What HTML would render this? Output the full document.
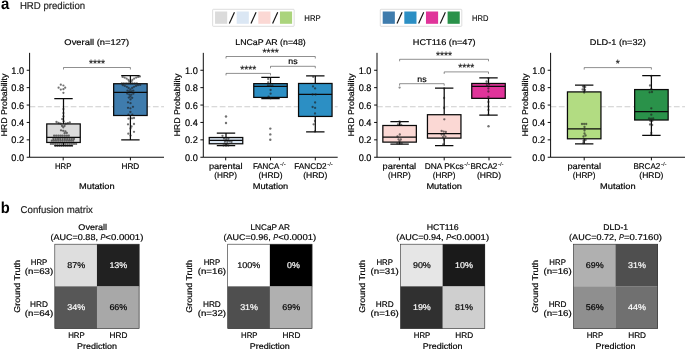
<!DOCTYPE html>
<html><head><meta charset="utf-8"><title>HRD prediction</title>
<style>
html,body{margin:0;padding:0;background:#fff;}
body{width:685px;height:349px;overflow:hidden;font-family:"Liberation Sans",sans-serif;}
svg{display:block;will-change:transform;text-rendering:geometricPrecision;}
</style></head><body>
<svg width="685" height="349" viewBox="0 0 685 349" font-family="'Liberation Sans', sans-serif">
<rect width="685" height="349" fill="#fff"/>
<text x="1.00" y="9.00" font-size="16" text-anchor="start" fill="#000" textLength="8.30" lengthAdjust="spacingAndGlyphs" font-weight="bold">a</text>
<text x="19.90" y="9.00" font-size="10.0" text-anchor="start" fill="#222" textLength="65.20" lengthAdjust="spacingAndGlyphs" stroke="#222" stroke-width="0.18">HRD prediction</text>
<text x="0.70" y="213.00" font-size="16" text-anchor="start" fill="#000" textLength="9.00" lengthAdjust="spacingAndGlyphs" font-weight="bold">b</text>
<text x="20.60" y="213.00" font-size="9.9" text-anchor="start" fill="#222" textLength="72.30" lengthAdjust="spacingAndGlyphs" stroke="#222" stroke-width="0.18">Confusion matrix</text>
<rect x="212.65" y="9.3" width="81.5" height="17.0" rx="0.7" fill="#fff" stroke="#cfcfcf" stroke-width="0.7"/>
<rect x="215.05" y="11.5" width="12.15" height="12.3" fill="#dbdbdb"/>
<line x1="229.35" y1="23.4" x2="234.45" y2="12.3" stroke="#111" stroke-width="1.15"/>
<rect x="236.68" y="11.5" width="12.15" height="12.3" fill="#dbe7f4"/>
<line x1="250.98" y1="23.4" x2="256.08" y2="12.3" stroke="#111" stroke-width="1.15"/>
<rect x="258.31" y="11.5" width="12.15" height="12.3" fill="#fbd8d4"/>
<line x1="272.61" y1="23.4" x2="277.71" y2="12.3" stroke="#111" stroke-width="1.15"/>
<rect x="279.94" y="11.5" width="12.15" height="12.3" fill="#abd47c"/>
<text x="304.35" y="21.00" font-size="8.4" text-anchor="start" fill="#000" textLength="16.40" lengthAdjust="spacingAndGlyphs" stroke="#000" stroke-width="0.1">HRP</text>
<rect x="380.3" y="9.3" width="81.5" height="17.0" rx="0.7" fill="#fff" stroke="#cfcfcf" stroke-width="0.7"/>
<rect x="382.70" y="11.5" width="12.15" height="12.3" fill="#3f7cad"/>
<line x1="397.00" y1="23.4" x2="402.10" y2="12.3" stroke="#111" stroke-width="1.15"/>
<rect x="404.33" y="11.5" width="12.15" height="12.3" fill="#2c8fc4"/>
<line x1="418.63" y1="23.4" x2="423.73" y2="12.3" stroke="#111" stroke-width="1.15"/>
<rect x="425.96" y="11.5" width="12.15" height="12.3" fill="#e0349a"/>
<line x1="440.26" y1="23.4" x2="445.36" y2="12.3" stroke="#111" stroke-width="1.15"/>
<rect x="447.59" y="11.5" width="12.15" height="12.3" fill="#2a924a"/>
<text x="472.00" y="21.00" font-size="8.4" text-anchor="start" fill="#000" textLength="16.40" lengthAdjust="spacingAndGlyphs" stroke="#000" stroke-width="0.1">HRD</text>
<line x1="29.6" x2="164.0" y1="106.79" y2="106.79" stroke="#cdcdcd" stroke-width="1.1" stroke-dasharray="5.74 2.48"/>
<rect x="46.75" y="123.93" width="33.5" height="18.53" fill="#dbdbdb" stroke="#0a0a0a" stroke-width="1.25"/>
<path d="M46.75 137.41H80.25M63.50 123.93V98.70M63.50 142.46V145.68M54.30 98.70h18.4M54.30 145.68h18.4" fill="none" stroke="#0a0a0a" stroke-width="1.25"/>
<rect x="113.65" y="83.73" width="33.5" height="31.76" fill="#3f7cad" stroke="#0a0a0a" stroke-width="1.25"/>
<path d="M113.65 92.44H147.15M130.40 83.73V75.73M130.40 115.49V139.85M121.20 75.73h18.4M121.20 139.85h18.4" fill="none" stroke="#0a0a0a" stroke-width="1.25"/>
<g fill="#1c1c1c" fill-opacity="0.62"><circle cx="55.3" cy="145.8" r="1.15"/><circle cx="57.4" cy="145.8" r="1.15"/><circle cx="59.5" cy="145.8" r="1.15"/><circle cx="61.6" cy="145.8" r="1.15"/><circle cx="63.7" cy="145.8" r="1.15"/><circle cx="65.8" cy="145.8" r="1.15"/><circle cx="67.9" cy="145.8" r="1.15"/><circle cx="70.0" cy="145.8" r="1.15"/><circle cx="72.1" cy="145.8" r="1.15"/><circle cx="50.9" cy="143.9" r="1.15"/><circle cx="53.0" cy="143.9" r="1.15"/><circle cx="55.1" cy="143.9" r="1.15"/><circle cx="57.2" cy="143.9" r="1.15"/><circle cx="59.3" cy="143.9" r="1.15"/><circle cx="61.4" cy="143.9" r="1.15"/><circle cx="63.5" cy="143.9" r="1.15"/><circle cx="65.6" cy="143.9" r="1.15"/><circle cx="67.7" cy="143.9" r="1.15"/><circle cx="69.8" cy="143.9" r="1.15"/><circle cx="71.9" cy="143.9" r="1.15"/><circle cx="74.0" cy="143.9" r="1.15"/><circle cx="76.1" cy="143.9" r="1.15"/><circle cx="51.8" cy="140.7" r="1.15"/><circle cx="53.9" cy="140.7" r="1.15"/><circle cx="56.0" cy="140.7" r="1.15"/><circle cx="58.2" cy="140.7" r="1.15"/><circle cx="60.4" cy="140.7" r="1.15"/><circle cx="62.5" cy="140.7" r="1.15"/><circle cx="64.7" cy="140.7" r="1.15"/><circle cx="66.8" cy="140.7" r="1.15"/><circle cx="69.0" cy="140.7" r="1.15"/><circle cx="71.1" cy="140.7" r="1.15"/><circle cx="73.2" cy="140.7" r="1.15"/><circle cx="53.4" cy="138.9" r="1.15"/><circle cx="55.7" cy="138.9" r="1.15"/><circle cx="58.0" cy="138.9" r="1.15"/><circle cx="60.2" cy="138.9" r="1.15"/><circle cx="62.6" cy="138.9" r="1.15"/><circle cx="64.9" cy="138.9" r="1.15"/><circle cx="67.2" cy="138.9" r="1.15"/><circle cx="69.5" cy="138.9" r="1.15"/><circle cx="71.8" cy="138.9" r="1.15"/><circle cx="74.0" cy="138.9" r="1.15"/><circle cx="54.1" cy="135.7" r="1.15"/><circle cx="56.2" cy="135.7" r="1.15"/><circle cx="58.4" cy="135.7" r="1.15"/><circle cx="60.5" cy="135.7" r="1.15"/><circle cx="62.5" cy="135.7" r="1.15"/><circle cx="64.7" cy="135.7" r="1.15"/><circle cx="66.8" cy="135.7" r="1.15"/><circle cx="68.8" cy="135.7" r="1.15"/><circle cx="61.0" cy="130.3" r="1.15"/><circle cx="63.2" cy="130.8" r="1.15"/><circle cx="65.4" cy="131.3" r="1.15"/><circle cx="66.8" cy="132.9" r="1.15"/><circle cx="64.6" cy="133.2" r="1.15"/><circle cx="62.0" cy="125.9" r="1.15"/><circle cx="64.5" cy="125.9" r="1.15"/><circle cx="63.3" cy="127.3" r="1.15"/><circle cx="56.5" cy="122.0" r="1.15"/><circle cx="58.6" cy="123.0" r="1.15"/><circle cx="60.7" cy="123.7" r="1.15"/><circle cx="65.7" cy="123.7" r="1.15"/><circle cx="67.8" cy="123.1" r="1.15"/><circle cx="69.8" cy="122.4" r="1.15"/><circle cx="63.4" cy="109.1" r="1.15"/><circle cx="63.4" cy="113.1" r="1.15"/><circle cx="63.4" cy="116.4" r="1.15"/><circle cx="62.2" cy="119.1" r="1.15"/><circle cx="63.6" cy="121.3" r="1.15"/></g>
<g fill="#1c1c1c" fill-opacity="0.62"><circle cx="60.8" cy="84.7" r="1.1"/><circle cx="63.4" cy="85.5" r="1.1"/><circle cx="58.6" cy="87.7" r="1.1"/><circle cx="65.2" cy="87.7" r="1.1"/><circle cx="60.8" cy="89.6" r="1.1"/><circle cx="63.4" cy="89.2" r="1.1"/><circle cx="63.4" cy="92.8" r="1.1"/></g>
<g fill="#1c1c1c" fill-opacity="0.62"><circle cx="122.6" cy="76.9" r="1.15"/><circle cx="124.6" cy="77.6" r="1.15"/><circle cx="126.6" cy="78.6" r="1.15"/><circle cx="128.4" cy="79.8" r="1.15"/><circle cx="129.3" cy="81.4" r="1.15"/><circle cx="131.5" cy="81.4" r="1.15"/><circle cx="132.4" cy="79.8" r="1.15"/><circle cx="134.2" cy="78.6" r="1.15"/><circle cx="136.2" cy="77.6" r="1.15"/><circle cx="138.2" cy="76.9" r="1.15"/><circle cx="139.9" cy="76.4" r="1.15"/><circle cx="121.8" cy="83.4" r="1.15"/><circle cx="123.9" cy="83.4" r="1.15"/><circle cx="126.1" cy="83.4" r="1.15"/><circle cx="128.2" cy="83.4" r="1.15"/><circle cx="130.4" cy="83.4" r="1.15"/><circle cx="132.5" cy="83.4" r="1.15"/><circle cx="134.7" cy="83.4" r="1.15"/><circle cx="136.8" cy="83.4" r="1.15"/><circle cx="122.8" cy="85.2" r="1.15"/><circle cx="124.8" cy="85.9" r="1.15"/><circle cx="126.8" cy="86.8" r="1.15"/><circle cx="128.6" cy="88.0" r="1.15"/><circle cx="130.4" cy="89.4" r="1.15"/><circle cx="132.2" cy="88.0" r="1.15"/><circle cx="134.0" cy="86.8" r="1.15"/><circle cx="136.0" cy="85.9" r="1.15"/><circle cx="138.0" cy="85.2" r="1.15"/><circle cx="140.2" cy="84.9" r="1.15"/><circle cx="127.5" cy="90.6" r="1.15"/><circle cx="129.4" cy="91.4" r="1.15"/><circle cx="131.4" cy="91.4" r="1.15"/><circle cx="133.3" cy="90.6" r="1.15"/><circle cx="127.3" cy="93.6" r="1.15"/><circle cx="129.3" cy="94.6" r="1.15"/><circle cx="131.4" cy="94.6" r="1.15"/><circle cx="133.4" cy="93.6" r="1.15"/><circle cx="130.4" cy="96.5" r="1.15"/><circle cx="128.8" cy="97.6" r="1.15"/><circle cx="132.2" cy="97.8" r="1.15"/><circle cx="130.5" cy="99.4" r="1.15"/><circle cx="128.0" cy="102.3" r="1.15"/><circle cx="130.5" cy="103.2" r="1.15"/><circle cx="128.0" cy="107.8" r="1.15"/><circle cx="130.4" cy="108.3" r="1.15"/><circle cx="133.0" cy="106.8" r="1.15"/><circle cx="130.4" cy="112.0" r="1.15"/><circle cx="128.5" cy="114.7" r="1.15"/><circle cx="132.3" cy="114.7" r="1.15"/><circle cx="128.5" cy="118.7" r="1.15"/><circle cx="132.0" cy="118.3" r="1.15"/><circle cx="134.0" cy="118.0" r="1.15"/><circle cx="128.0" cy="124.3" r="1.15"/><circle cx="134.0" cy="124.0" r="1.15"/><circle cx="131.5" cy="126.5" r="1.15"/><circle cx="130.5" cy="128.5" r="1.15"/><circle cx="128.3" cy="133.7" r="1.15"/><circle cx="134.0" cy="131.8" r="1.15"/><circle cx="130.6" cy="135.6" r="1.15"/></g>
<path d="M63.50 69.50V67.50H130.40V69.50" fill="none" stroke="#333" stroke-width="0.55"/>
<text x="96.95" y="66.80" font-size="10.4" text-anchor="middle" fill="#1a1a1a" textLength="16.10" lengthAdjust="spacingAndGlyphs" stroke="#1a1a1a" stroke-width="0.18">****</text>
<path d="M29.6 52.85V157.25H164.0" fill="none" stroke="#000" stroke-width="0.95"/>
<line x1="26.70" x2="29.6" y1="157.25" y2="157.25" stroke="#000" stroke-width="0.95"/>
<text x="24.10" y="161.00" font-size="9.6" text-anchor="end" fill="#000" textLength="12.80" lengthAdjust="spacingAndGlyphs" stroke="#000" stroke-width="0.18">0.0</text>
<line x1="26.70" x2="29.6" y1="139.85" y2="139.85" stroke="#000" stroke-width="0.95"/>
<text x="24.10" y="143.00" font-size="9.6" text-anchor="end" fill="#000" textLength="12.80" lengthAdjust="spacingAndGlyphs" stroke="#000" stroke-width="0.18">0.2</text>
<line x1="26.70" x2="29.6" y1="122.45" y2="122.45" stroke="#000" stroke-width="0.95"/>
<text x="24.10" y="126.00" font-size="9.6" text-anchor="end" fill="#000" textLength="12.80" lengthAdjust="spacingAndGlyphs" stroke="#000" stroke-width="0.18">0.4</text>
<line x1="26.70" x2="29.6" y1="105.05" y2="105.05" stroke="#000" stroke-width="0.95"/>
<text x="24.10" y="109.00" font-size="9.6" text-anchor="end" fill="#000" textLength="12.80" lengthAdjust="spacingAndGlyphs" stroke="#000" stroke-width="0.18">0.6</text>
<line x1="26.70" x2="29.6" y1="87.65" y2="87.65" stroke="#000" stroke-width="0.95"/>
<text x="24.10" y="91.00" font-size="9.6" text-anchor="end" fill="#000" textLength="12.80" lengthAdjust="spacingAndGlyphs" stroke="#000" stroke-width="0.18">0.8</text>
<line x1="26.70" x2="29.6" y1="70.25" y2="70.25" stroke="#000" stroke-width="0.95"/>
<text x="24.10" y="74.00" font-size="9.6" text-anchor="end" fill="#000" textLength="12.80" lengthAdjust="spacingAndGlyphs" stroke="#000" stroke-width="0.18">1.0</text>
<line x1="63.20" x2="63.20" y1="157.25" y2="160.35" stroke="#000" stroke-width="0.95"/>
<text x="63.20" y="169.00" font-size="8.35" text-anchor="middle" fill="#000" textLength="16.50" lengthAdjust="spacingAndGlyphs" stroke="#000" stroke-width="0.18">HRP</text>
<line x1="130.40" x2="130.40" y1="157.25" y2="160.35" stroke="#000" stroke-width="0.95"/>
<text x="130.40" y="169.00" font-size="8.35" text-anchor="middle" fill="#000" textLength="17.85" lengthAdjust="spacingAndGlyphs" stroke="#000" stroke-width="0.18">HRD</text>
<text x="96.80" y="189.00" font-size="8.35" text-anchor="middle" fill="#000" textLength="35.56" lengthAdjust="spacingAndGlyphs" stroke="#000" stroke-width="0.18">Mutation</text>
<g transform="translate(6.70 105.05) rotate(-90)">
<text x="0.00" y="0.00" font-size="8.35" text-anchor="middle" fill="#000" textLength="62.96" lengthAdjust="spacingAndGlyphs" stroke="#000" stroke-width="0.18">HRD Probability</text>
</g>
<text x="96.80" y="45.00" font-size="8.35" text-anchor="middle" fill="#000" textLength="64.82" lengthAdjust="spacingAndGlyphs" stroke="#000" stroke-width="0.18">Overall (n=127)</text>
<line x1="203.3" x2="337.70000000000005" y1="106.79" y2="106.79" stroke="#cdcdcd" stroke-width="1.1" stroke-dasharray="5.74 2.48"/>
<rect x="209.25" y="137.50" width="33.5" height="6.26" fill="#dbe7f4" stroke="#0a0a0a" stroke-width="1.25"/>
<path d="M209.25 140.37H242.75M226.00 137.50V133.24M226.00 143.76V145.50M216.80 133.24h18.4M216.80 145.50h18.4" fill="none" stroke="#0a0a0a" stroke-width="1.25"/>
<rect x="253.75" y="83.65" width="33.5" height="13.75" fill="#2c8fc4" stroke="#0a0a0a" stroke-width="1.25"/>
<path d="M253.75 86.43H287.25M270.50 83.65V77.47M270.50 97.39V98.53M261.30 77.47h18.4M261.30 98.53h18.4" fill="none" stroke="#0a0a0a" stroke-width="1.25"/>
<rect x="298.55" y="83.47" width="33.5" height="32.97" fill="#2c8fc4" stroke="#0a0a0a" stroke-width="1.25"/>
<path d="M298.55 94.44H332.05M315.30 83.47V75.91M315.30 116.45V131.93M306.10 75.91h18.4M306.10 131.93h18.4" fill="none" stroke="#0a0a0a" stroke-width="1.25"/>
<g fill="#1c1c1c" fill-opacity="0.62"><circle cx="222.5" cy="135.8" r="1.15"/><circle cx="224.0" cy="138.6" r="1.15"/><circle cx="226.2" cy="139.2" r="1.15"/><circle cx="228.4" cy="138.8" r="1.15"/><circle cx="225.0" cy="141.6" r="1.15"/><circle cx="227.3" cy="141.8" r="1.15"/><circle cx="229.5" cy="141.4" r="1.15"/><circle cx="231.5" cy="141.9" r="1.15"/><circle cx="224.5" cy="143.6" r="1.15"/><circle cx="226.7" cy="144.0" r="1.15"/><circle cx="223.5" cy="145.5" r="1.15"/><circle cx="226.0" cy="145.7" r="1.15"/><circle cx="228.3" cy="145.5" r="1.15"/></g>
<g fill="#1c1c1c" fill-opacity="0.62"><circle cx="226.0" cy="116.5" r="1.2"/><circle cx="226.0" cy="123.0" r="1.2"/></g>
<g fill="#1c1c1c" fill-opacity="0.62"><circle cx="268.2" cy="79.0" r="1.15"/><circle cx="268.2" cy="82.4" r="1.15"/><circle cx="268.0" cy="85.3" r="1.15"/><circle cx="270.2" cy="85.5" r="1.15"/><circle cx="272.4" cy="85.3" r="1.15"/><circle cx="270.6" cy="90.0" r="1.15"/><circle cx="270.6" cy="93.7" r="1.15"/><circle cx="268.6" cy="96.6" r="1.15"/><circle cx="270.6" cy="98.3" r="1.15"/></g>
<g fill="#1c1c1c" fill-opacity="0.62"><circle cx="270.3" cy="128.6" r="1.2"/><circle cx="270.3" cy="134.4" r="1.2"/><circle cx="270.3" cy="139.8" r="1.2"/></g>
<g fill="#1c1c1c" fill-opacity="0.62"><circle cx="313.2" cy="76.8" r="1.15"/><circle cx="313.0" cy="86.4" r="1.15"/><circle cx="315.1" cy="88.4" r="1.15"/><circle cx="312.6" cy="94.5" r="1.15"/><circle cx="315.6" cy="94.5" r="1.15"/><circle cx="315.1" cy="102.5" r="1.15"/><circle cx="312.6" cy="107.0" r="1.15"/><circle cx="315.1" cy="107.9" r="1.15"/><circle cx="315.0" cy="113.5" r="1.15"/><circle cx="313.6" cy="124.3" r="1.15"/><circle cx="315.0" cy="121.0" r="1.15"/><circle cx="315.0" cy="131.5" r="1.15"/></g>
<path d="M226.00 58.50V56.50H315.30V58.50" fill="none" stroke="#333" stroke-width="0.55"/>
<text x="270.65" y="55.80" font-size="10.4" text-anchor="middle" fill="#1a1a1a" textLength="16.10" lengthAdjust="spacingAndGlyphs" stroke="#1a1a1a" stroke-width="0.18">****</text>
<path d="M270.50 68.30V66.30H315.30V68.30" fill="none" stroke="#333" stroke-width="0.55"/>
<text x="292.90" y="64.20" font-size="8.35" text-anchor="middle" fill="#000" textLength="9.30" lengthAdjust="spacingAndGlyphs" stroke="#000" stroke-width="0.18">ns</text>
<path d="M226.00 75.40V73.40H270.50V75.40" fill="none" stroke="#333" stroke-width="0.55"/>
<text x="248.25" y="72.70" font-size="10.4" text-anchor="middle" fill="#1a1a1a" textLength="16.10" lengthAdjust="spacingAndGlyphs" stroke="#1a1a1a" stroke-width="0.18">****</text>
<path d="M203.3 52.85V157.25H337.70000000000005" fill="none" stroke="#000" stroke-width="0.95"/>
<line x1="200.40" x2="203.3" y1="157.25" y2="157.25" stroke="#000" stroke-width="0.95"/>
<text x="197.80" y="161.00" font-size="9.6" text-anchor="end" fill="#000" textLength="12.80" lengthAdjust="spacingAndGlyphs" stroke="#000" stroke-width="0.18">0.0</text>
<line x1="200.40" x2="203.3" y1="139.85" y2="139.85" stroke="#000" stroke-width="0.95"/>
<text x="197.80" y="143.00" font-size="9.6" text-anchor="end" fill="#000" textLength="12.80" lengthAdjust="spacingAndGlyphs" stroke="#000" stroke-width="0.18">0.2</text>
<line x1="200.40" x2="203.3" y1="122.45" y2="122.45" stroke="#000" stroke-width="0.95"/>
<text x="197.80" y="126.00" font-size="9.6" text-anchor="end" fill="#000" textLength="12.80" lengthAdjust="spacingAndGlyphs" stroke="#000" stroke-width="0.18">0.4</text>
<line x1="200.40" x2="203.3" y1="105.05" y2="105.05" stroke="#000" stroke-width="0.95"/>
<text x="197.80" y="109.00" font-size="9.6" text-anchor="end" fill="#000" textLength="12.80" lengthAdjust="spacingAndGlyphs" stroke="#000" stroke-width="0.18">0.6</text>
<line x1="200.40" x2="203.3" y1="87.65" y2="87.65" stroke="#000" stroke-width="0.95"/>
<text x="197.80" y="91.00" font-size="9.6" text-anchor="end" fill="#000" textLength="12.80" lengthAdjust="spacingAndGlyphs" stroke="#000" stroke-width="0.18">0.8</text>
<line x1="200.40" x2="203.3" y1="70.25" y2="70.25" stroke="#000" stroke-width="0.95"/>
<text x="197.80" y="74.00" font-size="9.6" text-anchor="end" fill="#000" textLength="12.80" lengthAdjust="spacingAndGlyphs" stroke="#000" stroke-width="0.18">1.0</text>
<line x1="225.70" x2="225.70" y1="157.25" y2="160.35" stroke="#000" stroke-width="0.95"/>
<text x="225.70" y="169.00" font-size="8.35" text-anchor="middle" fill="#000" textLength="33.56" lengthAdjust="spacingAndGlyphs" stroke="#000" stroke-width="0.18">parental</text>
<text x="225.70" y="178.00" font-size="8.35" text-anchor="middle" fill="#000" textLength="22.78" lengthAdjust="spacingAndGlyphs" stroke="#000" stroke-width="0.18">(HRP)</text>
<line x1="270.50" x2="270.50" y1="157.25" y2="160.35" stroke="#000" stroke-width="0.95"/>
<text x="252.88" y="169.00" font-size="8.35" text-anchor="start" fill="#000" textLength="26.55" lengthAdjust="spacingAndGlyphs" stroke="#000" stroke-width="0.18">FANCA</text>
<text x="280.03" y="165.70" font-size="5.51" text-anchor="start" fill="#222" textLength="5.62" lengthAdjust="spacingAndGlyphs" stroke="#222" stroke-width="0.1">-/-</text>
<text x="270.50" y="178.00" font-size="8.35" text-anchor="middle" fill="#000" textLength="24.13" lengthAdjust="spacingAndGlyphs" stroke="#000" stroke-width="0.18">(HRD)</text>
<line x1="315.30" x2="315.30" y1="157.25" y2="160.35" stroke="#000" stroke-width="0.95"/>
<text x="294.28" y="169.00" font-size="8.35" text-anchor="start" fill="#000" textLength="32.36" lengthAdjust="spacingAndGlyphs" stroke="#000" stroke-width="0.18">FANCD2</text>
<text x="327.24" y="165.70" font-size="5.51" text-anchor="start" fill="#222" textLength="5.62" lengthAdjust="spacingAndGlyphs" stroke="#222" stroke-width="0.1">-/-</text>
<text x="315.30" y="178.00" font-size="8.35" text-anchor="middle" fill="#000" textLength="24.13" lengthAdjust="spacingAndGlyphs" stroke="#000" stroke-width="0.18">(HRD)</text>
<text x="270.50" y="189.00" font-size="8.35" text-anchor="middle" fill="#000" textLength="35.56" lengthAdjust="spacingAndGlyphs" stroke="#000" stroke-width="0.18">Mutation</text>
<g transform="translate(180.40 105.05) rotate(-90)">
<text x="0.00" y="0.00" font-size="8.35" text-anchor="middle" fill="#000" textLength="62.96" lengthAdjust="spacingAndGlyphs" stroke="#000" stroke-width="0.18">HRD Probability</text>
</g>
<text x="270.50" y="45.00" font-size="8.35" text-anchor="middle" fill="#000" textLength="70.51" lengthAdjust="spacingAndGlyphs" stroke="#000" stroke-width="0.18">LNCaP AR (n=48)</text>
<line x1="377.0" x2="511.4" y1="106.79" y2="106.79" stroke="#cdcdcd" stroke-width="1.1" stroke-dasharray="5.74 2.48"/>
<rect x="382.85" y="125.50" width="33.5" height="16.62" fill="#fbd8d4" stroke="#0a0a0a" stroke-width="1.25"/>
<path d="M382.85 137.07H416.35M399.60 125.50V121.58M399.60 142.11V144.11M390.40 121.58h18.4M390.40 144.11h18.4" fill="none" stroke="#0a0a0a" stroke-width="1.25"/>
<rect x="427.45" y="114.71" width="33.5" height="23.40" fill="#fbd8d4" stroke="#0a0a0a" stroke-width="1.25"/>
<path d="M427.45 133.50H460.95M444.20 114.71V88.08M444.20 138.11V145.50M435.00 88.08h18.4M435.00 145.50h18.4" fill="none" stroke="#0a0a0a" stroke-width="1.25"/>
<rect x="471.75" y="83.47" width="33.5" height="14.88" fill="#e0349a" stroke="#0a0a0a" stroke-width="1.25"/>
<path d="M471.75 86.34H505.25M488.50 83.47V77.91M488.50 98.35V115.14M479.30 77.91h18.4M479.30 115.14h18.4" fill="none" stroke="#0a0a0a" stroke-width="1.25"/>
<g fill="#1c1c1c" fill-opacity="0.62"><circle cx="400.0" cy="122.5" r="1.15"/><circle cx="398.0" cy="124.5" r="1.15"/><circle cx="401.2" cy="124.8" r="1.15"/><circle cx="399.8" cy="134.5" r="1.15"/><circle cx="397.5" cy="136.4" r="1.15"/><circle cx="398.5" cy="139.3" r="1.15"/><circle cx="400.8" cy="139.5" r="1.15"/><circle cx="399.5" cy="141.2" r="1.15"/><circle cx="397.3" cy="143.4" r="1.15"/><circle cx="399.5" cy="143.8" r="1.15"/><circle cx="401.7" cy="143.4" r="1.15"/><circle cx="399.5" cy="121.4" r="1.15"/></g>
<g fill="#1c1c1c" fill-opacity="0.5"><circle cx="399.6" cy="87.6" r="1.15"/></g>
<g fill="#1c1c1c" fill-opacity="0.62"><circle cx="444.1" cy="98.0" r="1.15"/><circle cx="444.1" cy="108.0" r="1.15"/><circle cx="444.3" cy="119.3" r="1.15"/><circle cx="441.6" cy="131.0" r="1.15"/><circle cx="443.7" cy="131.6" r="1.15"/><circle cx="445.8" cy="132.0" r="1.15"/><circle cx="441.6" cy="134.6" r="1.15"/><circle cx="444.0" cy="134.9" r="1.15"/><circle cx="443.0" cy="137.1" r="1.15"/><circle cx="445.5" cy="136.6" r="1.15"/><circle cx="444.0" cy="139.6" r="1.15"/><circle cx="443.2" cy="144.5" r="1.15"/><circle cx="444.2" cy="88.4" r="1.15"/></g>
<g fill="#1c1c1c" fill-opacity="0.62"><circle cx="486.6" cy="81.4" r="1.15"/><circle cx="486.6" cy="83.6" r="1.15"/><circle cx="489.0" cy="84.6" r="1.15"/><circle cx="487.0" cy="85.7" r="1.15"/><circle cx="488.4" cy="88.5" r="1.15"/><circle cx="488.4" cy="91.5" r="1.15"/><circle cx="488.4" cy="96.8" r="1.15"/><circle cx="488.4" cy="102.0" r="1.15"/><circle cx="488.4" cy="106.5" r="1.15"/><circle cx="488.4" cy="110.0" r="1.15"/><circle cx="488.4" cy="78.2" r="1.15"/><circle cx="488.4" cy="114.8" r="1.15"/></g>
<g fill="#1c1c1c" fill-opacity="0.62"><circle cx="488.5" cy="126.2" r="1.2"/></g>
<path d="M399.60 61.30V59.30H488.50V61.30" fill="none" stroke="#333" stroke-width="0.55"/>
<text x="444.05" y="58.60" font-size="10.4" text-anchor="middle" fill="#1a1a1a" textLength="16.10" lengthAdjust="spacingAndGlyphs" stroke="#1a1a1a" stroke-width="0.18">****</text>
<path d="M444.20 73.90V71.90H488.50V73.90" fill="none" stroke="#333" stroke-width="0.55"/>
<text x="466.35" y="71.20" font-size="10.4" text-anchor="middle" fill="#1a1a1a" textLength="16.10" lengthAdjust="spacingAndGlyphs" stroke="#1a1a1a" stroke-width="0.18">****</text>
<path d="M399.60 85.70V83.70H444.20V85.70" fill="none" stroke="#333" stroke-width="0.55"/>
<text x="421.90" y="81.70" font-size="8.35" text-anchor="middle" fill="#000" textLength="9.30" lengthAdjust="spacingAndGlyphs" stroke="#000" stroke-width="0.18">ns</text>
<path d="M377.0 52.85V157.25H511.4" fill="none" stroke="#000" stroke-width="0.95"/>
<line x1="374.10" x2="377.0" y1="157.25" y2="157.25" stroke="#000" stroke-width="0.95"/>
<text x="371.50" y="161.00" font-size="9.6" text-anchor="end" fill="#000" textLength="12.80" lengthAdjust="spacingAndGlyphs" stroke="#000" stroke-width="0.18">0.0</text>
<line x1="374.10" x2="377.0" y1="139.85" y2="139.85" stroke="#000" stroke-width="0.95"/>
<text x="371.50" y="143.00" font-size="9.6" text-anchor="end" fill="#000" textLength="12.80" lengthAdjust="spacingAndGlyphs" stroke="#000" stroke-width="0.18">0.2</text>
<line x1="374.10" x2="377.0" y1="122.45" y2="122.45" stroke="#000" stroke-width="0.95"/>
<text x="371.50" y="126.00" font-size="9.6" text-anchor="end" fill="#000" textLength="12.80" lengthAdjust="spacingAndGlyphs" stroke="#000" stroke-width="0.18">0.4</text>
<line x1="374.10" x2="377.0" y1="105.05" y2="105.05" stroke="#000" stroke-width="0.95"/>
<text x="371.50" y="109.00" font-size="9.6" text-anchor="end" fill="#000" textLength="12.80" lengthAdjust="spacingAndGlyphs" stroke="#000" stroke-width="0.18">0.6</text>
<line x1="374.10" x2="377.0" y1="87.65" y2="87.65" stroke="#000" stroke-width="0.95"/>
<text x="371.50" y="91.00" font-size="9.6" text-anchor="end" fill="#000" textLength="12.80" lengthAdjust="spacingAndGlyphs" stroke="#000" stroke-width="0.18">0.8</text>
<line x1="374.10" x2="377.0" y1="70.25" y2="70.25" stroke="#000" stroke-width="0.95"/>
<text x="371.50" y="74.00" font-size="9.6" text-anchor="end" fill="#000" textLength="12.80" lengthAdjust="spacingAndGlyphs" stroke="#000" stroke-width="0.18">1.0</text>
<line x1="399.40" x2="399.40" y1="157.25" y2="160.35" stroke="#000" stroke-width="0.95"/>
<text x="399.40" y="169.00" font-size="8.35" text-anchor="middle" fill="#000" textLength="33.56" lengthAdjust="spacingAndGlyphs" stroke="#000" stroke-width="0.18">parental</text>
<text x="399.40" y="178.00" font-size="8.35" text-anchor="middle" fill="#000" textLength="22.78" lengthAdjust="spacingAndGlyphs" stroke="#000" stroke-width="0.18">(HRP)</text>
<line x1="444.20" x2="444.20" y1="157.25" y2="160.35" stroke="#000" stroke-width="0.95"/>
<text x="424.74" y="169.00" font-size="8.35" text-anchor="start" fill="#000" textLength="39.04" lengthAdjust="spacingAndGlyphs" stroke="#000" stroke-width="0.18">DNA PKcs</text>
<text x="464.38" y="165.70" font-size="5.51" text-anchor="start" fill="#222" textLength="5.62" lengthAdjust="spacingAndGlyphs" stroke="#222" stroke-width="0.1">-/-</text>
<text x="444.20" y="178.00" font-size="8.35" text-anchor="middle" fill="#000" textLength="22.78" lengthAdjust="spacingAndGlyphs" stroke="#000" stroke-width="0.18">(HRP)</text>
<line x1="489.00" x2="489.00" y1="157.25" y2="160.35" stroke="#000" stroke-width="0.95"/>
<text x="470.38" y="169.00" font-size="8.35" text-anchor="start" fill="#000" textLength="26.96" lengthAdjust="spacingAndGlyphs" stroke="#000" stroke-width="0.18">BRCA2</text>
<text x="497.94" y="165.70" font-size="5.51" text-anchor="start" fill="#222" textLength="5.62" lengthAdjust="spacingAndGlyphs" stroke="#222" stroke-width="0.1">-/-</text>
<text x="489.00" y="178.00" font-size="8.35" text-anchor="middle" fill="#000" textLength="24.13" lengthAdjust="spacingAndGlyphs" stroke="#000" stroke-width="0.18">(HRD)</text>
<text x="444.20" y="189.00" font-size="8.35" text-anchor="middle" fill="#000" textLength="35.56" lengthAdjust="spacingAndGlyphs" stroke="#000" stroke-width="0.18">Mutation</text>
<g transform="translate(354.10 105.05) rotate(-90)">
<text x="0.00" y="0.00" font-size="8.35" text-anchor="middle" fill="#000" textLength="62.96" lengthAdjust="spacingAndGlyphs" stroke="#000" stroke-width="0.18">HRD Probability</text>
</g>
<text x="444.20" y="45.00" font-size="8.35" text-anchor="middle" fill="#000" textLength="62.89" lengthAdjust="spacingAndGlyphs" stroke="#000" stroke-width="0.18">HCT116 (n=47)</text>
<line x1="550.6" x2="685.0" y1="106.79" y2="106.79" stroke="#cdcdcd" stroke-width="1.1" stroke-dasharray="5.74 2.48"/>
<rect x="567.45" y="91.91" width="33.5" height="46.89" fill="#b2dc82" stroke="#0a0a0a" stroke-width="1.25"/>
<path d="M567.45 128.89H600.95M584.20 91.91V85.21M584.20 138.81V143.85M575.00 85.21h18.4M575.00 143.85h18.4" fill="none" stroke="#0a0a0a" stroke-width="1.25"/>
<rect x="634.65" y="89.56" width="33.5" height="30.45" fill="#2a924a" stroke="#0a0a0a" stroke-width="1.25"/>
<path d="M634.65 111.57H668.15M651.40 89.56V75.64M651.40 120.01V135.41M642.20 75.64h18.4M642.20 135.41h18.4" fill="none" stroke="#0a0a0a" stroke-width="1.25"/>
<g fill="#1c1c1c" fill-opacity="0.62"><circle cx="583.0" cy="86.5" r="1.15"/><circle cx="585.2" cy="87.0" r="1.15"/><circle cx="582.6" cy="89.5" r="1.15"/><circle cx="585.0" cy="90.0" r="1.15"/><circle cx="584.2" cy="92.5" r="1.15"/><circle cx="582.0" cy="124.0" r="1.15"/><circle cx="584.1" cy="124.0" r="1.15"/><circle cx="586.2" cy="124.0" r="1.15"/><circle cx="584.5" cy="127.0" r="1.15"/><circle cx="584.5" cy="130.5" r="1.15"/><circle cx="584.5" cy="133.5" r="1.15"/><circle cx="583.5" cy="136.5" r="1.15"/><circle cx="585.6" cy="135.5" r="1.15"/><circle cx="583.5" cy="141.0" r="1.15"/><circle cx="585.6" cy="140.0" r="1.15"/><circle cx="583.2" cy="143.2" r="1.15"/></g>
<g fill="#1c1c1c" fill-opacity="0.62"><circle cx="650.0" cy="85.5" r="1.15"/><circle cx="649.6" cy="92.3" r="1.15"/><circle cx="652.0" cy="92.0" r="1.15"/><circle cx="651.3" cy="108.3" r="1.15"/><circle cx="651.3" cy="114.7" r="1.15"/><circle cx="649.0" cy="118.5" r="1.15"/><circle cx="651.1" cy="118.6" r="1.15"/><circle cx="653.2" cy="118.5" r="1.15"/><circle cx="650.0" cy="124.5" r="1.15"/><circle cx="652.2" cy="125.0" r="1.15"/><circle cx="651.3" cy="133.0" r="1.15"/><circle cx="651.3" cy="76.0" r="1.15"/><circle cx="651.3" cy="89.0" r="1.15"/><circle cx="650.2" cy="120.8" r="1.15"/><circle cx="652.4" cy="120.8" r="1.15"/><circle cx="651.3" cy="135.0" r="1.15"/></g>
<path d="M584.20 69.60V67.60H651.40V69.60" fill="none" stroke="#333" stroke-width="0.55"/>
<text x="617.80" y="66.90" font-size="10.4" text-anchor="middle" fill="#1a1a1a" textLength="4.03" lengthAdjust="spacingAndGlyphs" stroke="#1a1a1a" stroke-width="0.18">*</text>
<path d="M550.6 52.85V157.25H685.0" fill="none" stroke="#000" stroke-width="0.95"/>
<line x1="547.70" x2="550.6" y1="157.25" y2="157.25" stroke="#000" stroke-width="0.95"/>
<text x="545.10" y="161.00" font-size="9.6" text-anchor="end" fill="#000" textLength="12.80" lengthAdjust="spacingAndGlyphs" stroke="#000" stroke-width="0.18">0.0</text>
<line x1="547.70" x2="550.6" y1="139.85" y2="139.85" stroke="#000" stroke-width="0.95"/>
<text x="545.10" y="143.00" font-size="9.6" text-anchor="end" fill="#000" textLength="12.80" lengthAdjust="spacingAndGlyphs" stroke="#000" stroke-width="0.18">0.2</text>
<line x1="547.70" x2="550.6" y1="122.45" y2="122.45" stroke="#000" stroke-width="0.95"/>
<text x="545.10" y="126.00" font-size="9.6" text-anchor="end" fill="#000" textLength="12.80" lengthAdjust="spacingAndGlyphs" stroke="#000" stroke-width="0.18">0.4</text>
<line x1="547.70" x2="550.6" y1="105.05" y2="105.05" stroke="#000" stroke-width="0.95"/>
<text x="545.10" y="109.00" font-size="9.6" text-anchor="end" fill="#000" textLength="12.80" lengthAdjust="spacingAndGlyphs" stroke="#000" stroke-width="0.18">0.6</text>
<line x1="547.70" x2="550.6" y1="87.65" y2="87.65" stroke="#000" stroke-width="0.95"/>
<text x="545.10" y="91.00" font-size="9.6" text-anchor="end" fill="#000" textLength="12.80" lengthAdjust="spacingAndGlyphs" stroke="#000" stroke-width="0.18">0.8</text>
<line x1="547.70" x2="550.6" y1="70.25" y2="70.25" stroke="#000" stroke-width="0.95"/>
<text x="545.10" y="74.00" font-size="9.6" text-anchor="end" fill="#000" textLength="12.80" lengthAdjust="spacingAndGlyphs" stroke="#000" stroke-width="0.18">1.0</text>
<line x1="584.20" x2="584.20" y1="157.25" y2="160.35" stroke="#000" stroke-width="0.95"/>
<text x="584.20" y="169.00" font-size="8.35" text-anchor="middle" fill="#000" textLength="33.56" lengthAdjust="spacingAndGlyphs" stroke="#000" stroke-width="0.18">parental</text>
<text x="584.20" y="178.00" font-size="8.35" text-anchor="middle" fill="#000" textLength="22.78" lengthAdjust="spacingAndGlyphs" stroke="#000" stroke-width="0.18">(HRP)</text>
<line x1="651.40" x2="651.40" y1="157.25" y2="160.35" stroke="#000" stroke-width="0.95"/>
<text x="633.38" y="169.00" font-size="8.35" text-anchor="start" fill="#000" textLength="26.96" lengthAdjust="spacingAndGlyphs" stroke="#000" stroke-width="0.18">BRCA2</text>
<text x="660.94" y="165.70" font-size="5.51" text-anchor="start" fill="#222" textLength="5.62" lengthAdjust="spacingAndGlyphs" stroke="#222" stroke-width="0.1">-/-</text>
<text x="651.40" y="178.00" font-size="8.35" text-anchor="middle" fill="#000" textLength="24.13" lengthAdjust="spacingAndGlyphs" stroke="#000" stroke-width="0.18">(HRD)</text>
<text x="617.80" y="189.00" font-size="8.35" text-anchor="middle" fill="#000" textLength="35.56" lengthAdjust="spacingAndGlyphs" stroke="#000" stroke-width="0.18">Mutation</text>
<g transform="translate(527.70 105.05) rotate(-90)">
<text x="0.00" y="0.00" font-size="8.35" text-anchor="middle" fill="#000" textLength="62.96" lengthAdjust="spacingAndGlyphs" stroke="#000" stroke-width="0.18">HRD Probability</text>
</g>
<text x="617.80" y="45.00" font-size="8.35" text-anchor="middle" fill="#000" textLength="55.84" lengthAdjust="spacingAndGlyphs" stroke="#000" stroke-width="0.18">DLD-1 (n=32)</text>
<rect x="54.80" y="244.20" width="42.35" height="42.35" fill="#dedede"/>
<text x="76.17" y="268.00" font-size="8.35" text-anchor="middle" fill="#000" textLength="17.89" lengthAdjust="spacingAndGlyphs" stroke="#000" stroke-width="0.18">87%</text>
<rect x="96.95" y="244.20" width="42.35" height="42.35" fill="#212121"/>
<text x="118.32" y="268.00" font-size="8.35" text-anchor="middle" fill="#fff" textLength="17.89" lengthAdjust="spacingAndGlyphs" stroke="#fff" stroke-width="0.18">13%</text>
<rect x="54.80" y="286.35" width="42.35" height="42.35" fill="#575757"/>
<text x="76.17" y="310.00" font-size="8.35" text-anchor="middle" fill="#fff" textLength="17.89" lengthAdjust="spacingAndGlyphs" stroke="#fff" stroke-width="0.18">34%</text>
<rect x="96.95" y="286.35" width="42.35" height="42.35" fill="#a8a8a8"/>
<text x="118.32" y="310.00" font-size="8.35" text-anchor="middle" fill="#000" textLength="17.89" lengthAdjust="spacingAndGlyphs" stroke="#000" stroke-width="0.18">66%</text>
<rect x="54.8" y="244.2" width="84.3" height="84.3" fill="none" stroke="#2a2a2a" stroke-width="0.6"/>
<text x="92.75" y="230.00" font-size="8.35" text-anchor="middle" fill="#000" textLength="28.77" lengthAdjust="spacingAndGlyphs" stroke="#000" stroke-width="0.18">Overall</text>
<text x="50.52" y="240.00" font-size="8.35" text-anchor="start" fill="#000" textLength="47.39" lengthAdjust="spacingAndGlyphs" stroke="#000" stroke-width="0.18">(AUC=0.88,</text>
<text x="100.47" y="240.00" font-size="8.35" text-anchor="start" fill="#000" textLength="4.85" lengthAdjust="spacingAndGlyphs" stroke="#000" stroke-width="0.18" font-style="italic">P</text>
<text x="105.32" y="240.00" font-size="8.35" text-anchor="start" fill="#000" textLength="38.05" lengthAdjust="spacingAndGlyphs" stroke="#000" stroke-width="0.18">&lt;0.0001)</text>
<text x="39.00" y="265.00" font-size="8.35" text-anchor="middle" fill="#000" textLength="16.50" lengthAdjust="spacingAndGlyphs" stroke="#000" stroke-width="0.18">HRP</text>
<text x="39.00" y="274.00" font-size="8.35" text-anchor="middle" fill="#000" textLength="28.37" lengthAdjust="spacingAndGlyphs" stroke="#000" stroke-width="0.18">(n=63)</text>
<text x="39.00" y="307.00" font-size="8.35" text-anchor="middle" fill="#000" textLength="17.85" lengthAdjust="spacingAndGlyphs" stroke="#000" stroke-width="0.18">HRD</text>
<text x="39.00" y="316.00" font-size="8.35" text-anchor="middle" fill="#000" textLength="28.37" lengthAdjust="spacingAndGlyphs" stroke="#000" stroke-width="0.18">(n=64)</text>
<text x="76.38" y="338.00" font-size="8.35" text-anchor="middle" fill="#000" textLength="16.50" lengthAdjust="spacingAndGlyphs" stroke="#000" stroke-width="0.18">HRP</text>
<text x="118.52" y="338.00" font-size="8.35" text-anchor="middle" fill="#000" textLength="17.85" lengthAdjust="spacingAndGlyphs" stroke="#000" stroke-width="0.18">HRD</text>
<text x="96.95" y="349.00" font-size="8.35" text-anchor="middle" fill="#000" textLength="39.99" lengthAdjust="spacingAndGlyphs" stroke="#000" stroke-width="0.18">Prediction</text>
<g transform="translate(19.50 286.35) rotate(-90)">
<text x="0.00" y="0.00" font-size="8.35" text-anchor="middle" fill="#000" textLength="52.58" lengthAdjust="spacingAndGlyphs" stroke="#000" stroke-width="0.18">Ground Truth</text>
</g>
<rect x="227.70" y="244.20" width="42.35" height="42.35" fill="#ffffff"/>
<text x="248.77" y="268.00" font-size="8.35" text-anchor="middle" fill="#000" textLength="23.01" lengthAdjust="spacingAndGlyphs" stroke="#000" stroke-width="0.18">100%</text>
<rect x="269.85" y="244.20" width="42.35" height="42.35" fill="#000000"/>
<text x="293.52" y="268.00" font-size="8.35" text-anchor="middle" fill="#fff" textLength="12.77" lengthAdjust="spacingAndGlyphs" stroke="#fff" stroke-width="0.18">0%</text>
<rect x="227.70" y="286.35" width="42.35" height="42.35" fill="#4f4f4f"/>
<text x="249.07" y="310.00" font-size="8.35" text-anchor="middle" fill="#fff" textLength="17.89" lengthAdjust="spacingAndGlyphs" stroke="#fff" stroke-width="0.18">31%</text>
<rect x="269.85" y="286.35" width="42.35" height="42.35" fill="#b0b0b0"/>
<text x="291.22" y="310.00" font-size="8.35" text-anchor="middle" fill="#000" textLength="17.89" lengthAdjust="spacingAndGlyphs" stroke="#000" stroke-width="0.18">69%</text>
<rect x="227.7" y="244.2" width="84.3" height="84.3" fill="none" stroke="#2a2a2a" stroke-width="0.6"/>
<text x="270.25" y="230.00" font-size="8.35" text-anchor="middle" fill="#000" textLength="39.57" lengthAdjust="spacingAndGlyphs" stroke="#000" stroke-width="0.18">LNCaP AR</text>
<text x="223.42" y="240.00" font-size="8.35" text-anchor="start" fill="#000" textLength="47.39" lengthAdjust="spacingAndGlyphs" stroke="#000" stroke-width="0.18">(AUC=0.96,</text>
<text x="273.37" y="240.00" font-size="8.35" text-anchor="start" fill="#000" textLength="4.85" lengthAdjust="spacingAndGlyphs" stroke="#000" stroke-width="0.18" font-style="italic">P</text>
<text x="278.22" y="240.00" font-size="8.35" text-anchor="start" fill="#000" textLength="38.05" lengthAdjust="spacingAndGlyphs" stroke="#000" stroke-width="0.18">&lt;0.0001)</text>
<text x="211.90" y="265.00" font-size="8.35" text-anchor="middle" fill="#000" textLength="16.50" lengthAdjust="spacingAndGlyphs" stroke="#000" stroke-width="0.18">HRP</text>
<text x="211.90" y="274.00" font-size="8.35" text-anchor="middle" fill="#000" textLength="28.37" lengthAdjust="spacingAndGlyphs" stroke="#000" stroke-width="0.18">(n=16)</text>
<text x="211.90" y="307.00" font-size="8.35" text-anchor="middle" fill="#000" textLength="17.85" lengthAdjust="spacingAndGlyphs" stroke="#000" stroke-width="0.18">HRD</text>
<text x="211.90" y="316.00" font-size="8.35" text-anchor="middle" fill="#000" textLength="28.37" lengthAdjust="spacingAndGlyphs" stroke="#000" stroke-width="0.18">(n=32)</text>
<text x="249.27" y="338.00" font-size="8.35" text-anchor="middle" fill="#000" textLength="16.50" lengthAdjust="spacingAndGlyphs" stroke="#000" stroke-width="0.18">HRP</text>
<text x="291.42" y="338.00" font-size="8.35" text-anchor="middle" fill="#000" textLength="17.85" lengthAdjust="spacingAndGlyphs" stroke="#000" stroke-width="0.18">HRD</text>
<text x="269.85" y="349.00" font-size="8.35" text-anchor="middle" fill="#000" textLength="39.99" lengthAdjust="spacingAndGlyphs" stroke="#000" stroke-width="0.18">Prediction</text>
<g transform="translate(192.40 286.35) rotate(-90)">
<text x="0.00" y="0.00" font-size="8.35" text-anchor="middle" fill="#000" textLength="52.58" lengthAdjust="spacingAndGlyphs" stroke="#000" stroke-width="0.18">Ground Truth</text>
</g>
<rect x="400.50" y="244.20" width="42.35" height="42.35" fill="#e6e6e6"/>
<text x="421.88" y="268.00" font-size="8.35" text-anchor="middle" fill="#000" textLength="17.89" lengthAdjust="spacingAndGlyphs" stroke="#000" stroke-width="0.18">90%</text>
<rect x="442.65" y="244.20" width="42.35" height="42.35" fill="#1a1a1a"/>
<text x="464.02" y="268.00" font-size="8.35" text-anchor="middle" fill="#fff" textLength="17.89" lengthAdjust="spacingAndGlyphs" stroke="#fff" stroke-width="0.18">10%</text>
<rect x="400.50" y="286.35" width="42.35" height="42.35" fill="#303030"/>
<text x="421.88" y="310.00" font-size="8.35" text-anchor="middle" fill="#fff" textLength="17.89" lengthAdjust="spacingAndGlyphs" stroke="#fff" stroke-width="0.18">19%</text>
<rect x="442.65" y="286.35" width="42.35" height="42.35" fill="#cfcfcf"/>
<text x="464.02" y="310.00" font-size="8.35" text-anchor="middle" fill="#000" textLength="17.89" lengthAdjust="spacingAndGlyphs" stroke="#000" stroke-width="0.18">81%</text>
<rect x="400.5" y="244.2" width="84.3" height="84.3" fill="none" stroke="#2a2a2a" stroke-width="0.6"/>
<text x="442.75" y="230.00" font-size="8.35" text-anchor="middle" fill="#000" textLength="31.96" lengthAdjust="spacingAndGlyphs" stroke="#000" stroke-width="0.18">HCT116</text>
<text x="396.22" y="240.00" font-size="8.35" text-anchor="start" fill="#000" textLength="47.39" lengthAdjust="spacingAndGlyphs" stroke="#000" stroke-width="0.18">(AUC=0.94,</text>
<text x="446.17" y="240.00" font-size="8.35" text-anchor="start" fill="#000" textLength="4.85" lengthAdjust="spacingAndGlyphs" stroke="#000" stroke-width="0.18" font-style="italic">P</text>
<text x="451.02" y="240.00" font-size="8.35" text-anchor="start" fill="#000" textLength="38.05" lengthAdjust="spacingAndGlyphs" stroke="#000" stroke-width="0.18">&lt;0.0001)</text>
<text x="384.70" y="265.00" font-size="8.35" text-anchor="middle" fill="#000" textLength="16.50" lengthAdjust="spacingAndGlyphs" stroke="#000" stroke-width="0.18">HRP</text>
<text x="384.70" y="274.00" font-size="8.35" text-anchor="middle" fill="#000" textLength="28.37" lengthAdjust="spacingAndGlyphs" stroke="#000" stroke-width="0.18">(n=31)</text>
<text x="384.70" y="307.00" font-size="8.35" text-anchor="middle" fill="#000" textLength="17.85" lengthAdjust="spacingAndGlyphs" stroke="#000" stroke-width="0.18">HRD</text>
<text x="384.70" y="316.00" font-size="8.35" text-anchor="middle" fill="#000" textLength="28.37" lengthAdjust="spacingAndGlyphs" stroke="#000" stroke-width="0.18">(n=16)</text>
<text x="422.07" y="338.00" font-size="8.35" text-anchor="middle" fill="#000" textLength="16.50" lengthAdjust="spacingAndGlyphs" stroke="#000" stroke-width="0.18">HRP</text>
<text x="464.23" y="338.00" font-size="8.35" text-anchor="middle" fill="#000" textLength="17.85" lengthAdjust="spacingAndGlyphs" stroke="#000" stroke-width="0.18">HRD</text>
<text x="442.65" y="349.00" font-size="8.35" text-anchor="middle" fill="#000" textLength="39.99" lengthAdjust="spacingAndGlyphs" stroke="#000" stroke-width="0.18">Prediction</text>
<g transform="translate(365.20 286.35) rotate(-90)">
<text x="0.00" y="0.00" font-size="8.35" text-anchor="middle" fill="#000" textLength="52.58" lengthAdjust="spacingAndGlyphs" stroke="#000" stroke-width="0.18">Ground Truth</text>
</g>
<rect x="573.40" y="244.20" width="42.35" height="42.35" fill="#b0b0b0"/>
<text x="594.77" y="268.00" font-size="8.35" text-anchor="middle" fill="#000" textLength="17.89" lengthAdjust="spacingAndGlyphs" stroke="#000" stroke-width="0.18">69%</text>
<rect x="615.55" y="244.20" width="42.35" height="42.35" fill="#4f4f4f"/>
<text x="636.92" y="268.00" font-size="8.35" text-anchor="middle" fill="#fff" textLength="17.89" lengthAdjust="spacingAndGlyphs" stroke="#fff" stroke-width="0.18">31%</text>
<rect x="573.40" y="286.35" width="42.35" height="42.35" fill="#8f8f8f"/>
<text x="594.77" y="310.00" font-size="8.35" text-anchor="middle" fill="#000" textLength="17.89" lengthAdjust="spacingAndGlyphs" stroke="#000" stroke-width="0.18">56%</text>
<rect x="615.55" y="286.35" width="42.35" height="42.35" fill="#707070"/>
<text x="636.92" y="310.00" font-size="8.35" text-anchor="middle" fill="#fff" textLength="17.89" lengthAdjust="spacingAndGlyphs" stroke="#fff" stroke-width="0.18">44%</text>
<rect x="573.4" y="244.2" width="84.3" height="84.3" fill="none" stroke="#2a2a2a" stroke-width="0.6"/>
<text x="615.65" y="230.00" font-size="8.35" text-anchor="middle" fill="#000" textLength="24.91" lengthAdjust="spacingAndGlyphs" stroke="#000" stroke-width="0.18">DLD-1</text>
<text x="569.12" y="240.00" font-size="8.35" text-anchor="start" fill="#000" textLength="47.39" lengthAdjust="spacingAndGlyphs" stroke="#000" stroke-width="0.18">(AUC=0.72,</text>
<text x="619.07" y="240.00" font-size="8.35" text-anchor="start" fill="#000" textLength="4.85" lengthAdjust="spacingAndGlyphs" stroke="#000" stroke-width="0.18" font-style="italic">P</text>
<text x="623.92" y="240.00" font-size="8.35" text-anchor="start" fill="#000" textLength="38.05" lengthAdjust="spacingAndGlyphs" stroke="#000" stroke-width="0.18">=0.7160)</text>
<text x="557.60" y="265.00" font-size="8.35" text-anchor="middle" fill="#000" textLength="16.50" lengthAdjust="spacingAndGlyphs" stroke="#000" stroke-width="0.18">HRP</text>
<text x="557.60" y="274.00" font-size="8.35" text-anchor="middle" fill="#000" textLength="28.37" lengthAdjust="spacingAndGlyphs" stroke="#000" stroke-width="0.18">(n=16)</text>
<text x="557.60" y="307.00" font-size="8.35" text-anchor="middle" fill="#000" textLength="17.85" lengthAdjust="spacingAndGlyphs" stroke="#000" stroke-width="0.18">HRD</text>
<text x="557.60" y="316.00" font-size="8.35" text-anchor="middle" fill="#000" textLength="28.37" lengthAdjust="spacingAndGlyphs" stroke="#000" stroke-width="0.18">(n=16)</text>
<text x="594.98" y="338.00" font-size="8.35" text-anchor="middle" fill="#000" textLength="16.50" lengthAdjust="spacingAndGlyphs" stroke="#000" stroke-width="0.18">HRP</text>
<text x="637.12" y="338.00" font-size="8.35" text-anchor="middle" fill="#000" textLength="17.85" lengthAdjust="spacingAndGlyphs" stroke="#000" stroke-width="0.18">HRD</text>
<text x="615.55" y="349.00" font-size="8.35" text-anchor="middle" fill="#000" textLength="39.99" lengthAdjust="spacingAndGlyphs" stroke="#000" stroke-width="0.18">Prediction</text>
<g transform="translate(538.10 286.35) rotate(-90)">
<text x="0.00" y="0.00" font-size="8.35" text-anchor="middle" fill="#000" textLength="52.58" lengthAdjust="spacingAndGlyphs" stroke="#000" stroke-width="0.18">Ground Truth</text>
</g>
</svg>
</body></html>
